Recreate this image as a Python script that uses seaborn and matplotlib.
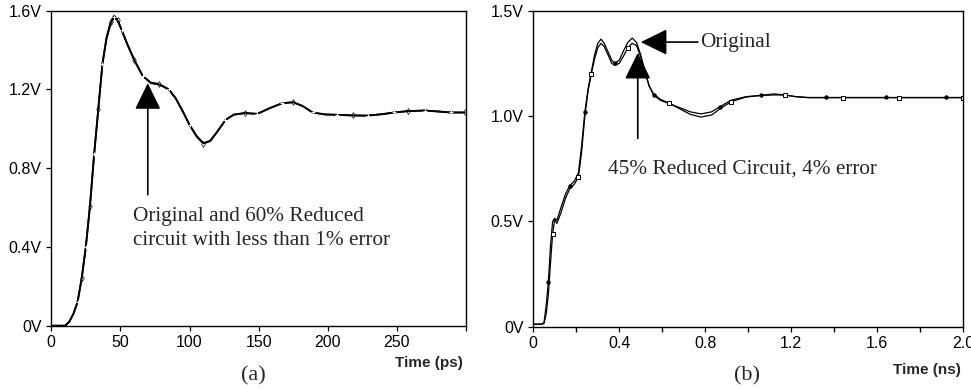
import pandas as pd
import matplotlib
matplotlib.use("Agg")
import matplotlib.pyplot as plt
import seaborn as sns

# ---- panel (a): step response, ps ----
left_time = [0, 10, 13, 16, 19, 22, 25, 28, 31, 34,
             37, 40, 43, 45.5, 48, 51, 55, 60, 66, 72,
             78, 85, 90, 95, 100, 105, 110, 115, 120, 126,
             132, 140, 149, 158, 167, 175, 182, 189, 198, 207,
             218, 229, 240, 248, 258, 270, 280, 289, 299]
left_orig = [0, 0, 0.02, 0.06, 0.12, 0.24, 0.40, 0.61, 0.87, 1.10,
             1.33, 1.46, 1.535, 1.566, 1.55, 1.50, 1.43, 1.35, 1.27, 1.232,
             1.225, 1.20, 1.155, 1.09, 1.02, 0.965, 0.927, 0.94, 0.985, 1.045,
             1.072, 1.08, 1.076, 1.105, 1.13, 1.135, 1.115, 1.083, 1.073, 1.071,
             1.068, 1.067, 1.075, 1.083, 1.09, 1.093, 1.088, 1.083, 1.083]
left_reduced = [0, 0, 0.02, 0.06, 0.12, 0.24, 0.40, 0.61, 0.87, 1.10,
                1.33, 1.465, 1.545, 1.575, 1.555, 1.50, 1.43, 1.35, 1.27, 1.235,
                1.228, 1.20, 1.155, 1.09, 1.02, 0.962, 0.925, 0.938, 0.985, 1.045,
                1.072, 1.08, 1.076, 1.105, 1.13, 1.135, 1.115, 1.083, 1.073, 1.071,
                1.068, 1.067, 1.075, 1.083, 1.09, 1.093, 1.088, 1.083, 1.083]
left_orig_marks = [4, 6, 8, 10, 13, 15, 18, 21, 24, 29, 32, 34, 37, 39, 41, 43, 45, 47]
left_red_marks = [5, 7, 9, 12, 14, 17, 20, 26, 31, 35, 40, 44, 48]
left_xticks = [0, 50, 100, 150, 200, 250, 300]
left_xlabels = ["0", "50", "100", "150", "200", "250", ""]
left_yticks = [0, 0.4, 0.8, 1.2, 1.6]
left_ylabels = ["0V", "0.4V", "0.8V", "1.2V", "1.6V"]

# ---- panel (b): step response, ns ----
right_time = [0, 0.04, 0.05, 0.06, 0.07, 0.08, 0.09, 0.10, 0.11, 0.13,
              0.15, 0.17, 0.19, 0.21, 0.225, 0.24, 0.255, 0.27, 0.285, 0.30,
              0.315, 0.33, 0.35, 0.365, 0.38, 0.40, 0.42, 0.44, 0.46, 0.48,
              0.50, 0.52, 0.54, 0.56, 0.59, 0.63, 0.68, 0.73, 0.78, 0.83,
              0.87, 0.92, 0.99, 1.06, 1.12, 1.17, 1.22, 1.28, 1.36, 1.44,
              1.52, 1.64, 1.70, 1.80, 1.92, 2.0]
right_orig = [0.012, 0.012, 0.02, 0.10, 0.21, 0.38, 0.50, 0.515, 0.505, 0.57,
              0.63, 0.67, 0.69, 0.73, 0.86, 1.02, 1.13, 1.21, 1.29, 1.345,
              1.365, 1.345, 1.30, 1.265, 1.25, 1.265, 1.31, 1.35, 1.37, 1.35,
              1.29, 1.21, 1.14, 1.10, 1.075, 1.06, 1.04, 1.02, 1.01, 1.02,
              1.045, 1.075, 1.092, 1.098, 1.10, 1.10, 1.092, 1.088, 1.088, 1.088,
              1.088, 1.088, 1.088, 1.088, 1.088, 1.088]
right_reduced = [0.012, 0.012, 0.015, 0.06, 0.15, 0.30, 0.44, 0.51, 0.49, 0.545,
                 0.61, 0.655, 0.675, 0.71, 0.83, 1.00, 1.12, 1.20, 1.27, 1.325,
                 1.345, 1.33, 1.285, 1.25, 1.24, 1.25, 1.285, 1.325, 1.345, 1.335,
                 1.28, 1.205, 1.14, 1.105, 1.08, 1.062, 1.035, 1.008, 0.995, 1.005,
                 1.035, 1.068, 1.09, 1.098, 1.105, 1.10, 1.092, 1.087, 1.087, 1.087,
                 1.087, 1.087, 1.087, 1.087, 1.087, 1.087]
right_orig_marks = [4, 11, 15, 24, 33, 40, 43, 48, 51, 54]
right_red_marks = [6, 13, 17, 27, 35, 41, 45, 49, 52, 55]
right_xticks = [0, 0.4, 0.8, 1.2, 1.6, 2.0]
right_xlabels = ["0", "0.4", "0.8", "1.2", "1.6", "2.0"]
right_xminor = [0.2, 0.6, 1.0, 1.4, 1.8]
right_yticks = [0, 0.5, 1.0, 1.5]
right_ylabels = ["0V", "0.5V", "1.0V", "1.5V"]

sns.set_theme(style="ticks", rc={
    "axes.edgecolor": "black", "axes.linewidth": 1.0,
    "xtick.color": "black", "ytick.color": "black",
    "xtick.major.size": 3.5, "ytick.major.size": 3.5,
    "xtick.minor.size": 3.5, "xtick.major.width": 0.9, "ytick.major.width": 0.9,
})
plt.rcParams["font.family"] = ["Liberation Sans", "DejaVu Sans"]
serif = ["Liberation Serif", "DejaVu Serif"]

fig = plt.figure(figsize=(9.71, 3.89), dpi=100)
ax1 = fig.add_axes([0.0528, 0.1627, 0.4272, 0.8098])
ax2 = fig.add_axes([0.5492, 0.1602, 0.4428, 0.8123])

df_a = pd.DataFrame({"t": left_time, "orig": left_orig, "red": left_reduced})
sns.lineplot(data=df_a, x="t", y="red", ax=ax1, color="black", lw=1.3,
             marker="d", ms=3.0, mfc="white", mec="black", mew=0.5,
             markevery=left_red_marks)
sns.lineplot(data=df_a, x="t", y="orig", ax=ax1, color="black", lw=1.3,
             marker="+", ms=3.0, mew=0.7, markevery=left_orig_marks)

df_b = pd.DataFrame({"t": right_time, "orig": right_orig, "red": right_reduced})
sns.lineplot(data=df_b, x="t", y="orig", ax=ax2, color="black", lw=0.9,
             marker="o", ms=2.4, mec="black", markevery=right_orig_marks)
sns.lineplot(data=df_b, x="t", y="red", ax=ax2, color="black", lw=0.9,
             marker="s", ms=2.8, mfc="white", mec="black", mew=0.7,
             markevery=right_red_marks)

for ax in (ax1, ax2):
    ax.set_xlabel("")
    ax.set_ylabel("")
    for s in ax.spines.values():
        s.set_visible(True)
        s.set_color("black")
    ax.tick_params(labelsize=11.5, pad=3.5, top=False, right=False)

ax1.set_xlim(0, 300)
ax1.set_ylim(0, 1.6)
ax1.set_xticks(left_xticks, left_xlabels)
ax1.set_yticks(left_yticks, left_ylabels)

ax2.set_xlim(0, 2.0)
ax2.set_ylim(0, 1.5)
ax2.set_xticks(right_xticks, right_xlabels)
ax2.set_xticks(right_xminor, minor=True)
ax2.set_yticks(right_yticks, right_ylabels)

head = dict(arrowstyle="-|>,head_length=0.55,head_width=0.27", mutation_scale=30,
            color="black", lw=1.2, shrinkA=0, shrinkB=0)

ax1.annotate("", xy=(69.8, 1.232), xytext=(69.8, 0.665), arrowprops=head)
ax1.text(59, 0.605, "Original and 60% Reduced\ncircuit with less than 1% error",
         family=serif, fontsize=15.3, ha="left", va="top", linespacing=1.4)

ax2.annotate("", xy=(0.50, 1.351), xytext=(0.766, 1.351), arrowprops=head)
ax2.text(0.775, 1.351, "Original", family=serif, fontsize=15.3, ha="left", va="center")
ax2.annotate("", xy=(0.486, 1.30), xytext=(0.486, 0.894), arrowprops=head)
ax2.text(0.349, 0.75, "45% Reduced Circuit, 4% error", family=serif,
         fontsize=15.3, ha="left", va="center")

fig.text(462.7 / 971, 1 - 363 / 389, "Time (ps)", fontsize=11, fontweight="bold",
         ha="right", va="center")
fig.text(961 / 971, 1 - 370 / 389, "Time (ns)", fontsize=11, fontweight="bold",
         ha="right", va="center")
fig.text(253 / 971, 1 - 376 / 389, "(a)", family=serif, fontsize=16,
         ha="center", va="center")
fig.text(746.7 / 971, 1 - 376 / 389, "(b)", family=serif, fontsize=16,
         ha="center", va="center")

fig.savefig("out.png", dpi=100)
